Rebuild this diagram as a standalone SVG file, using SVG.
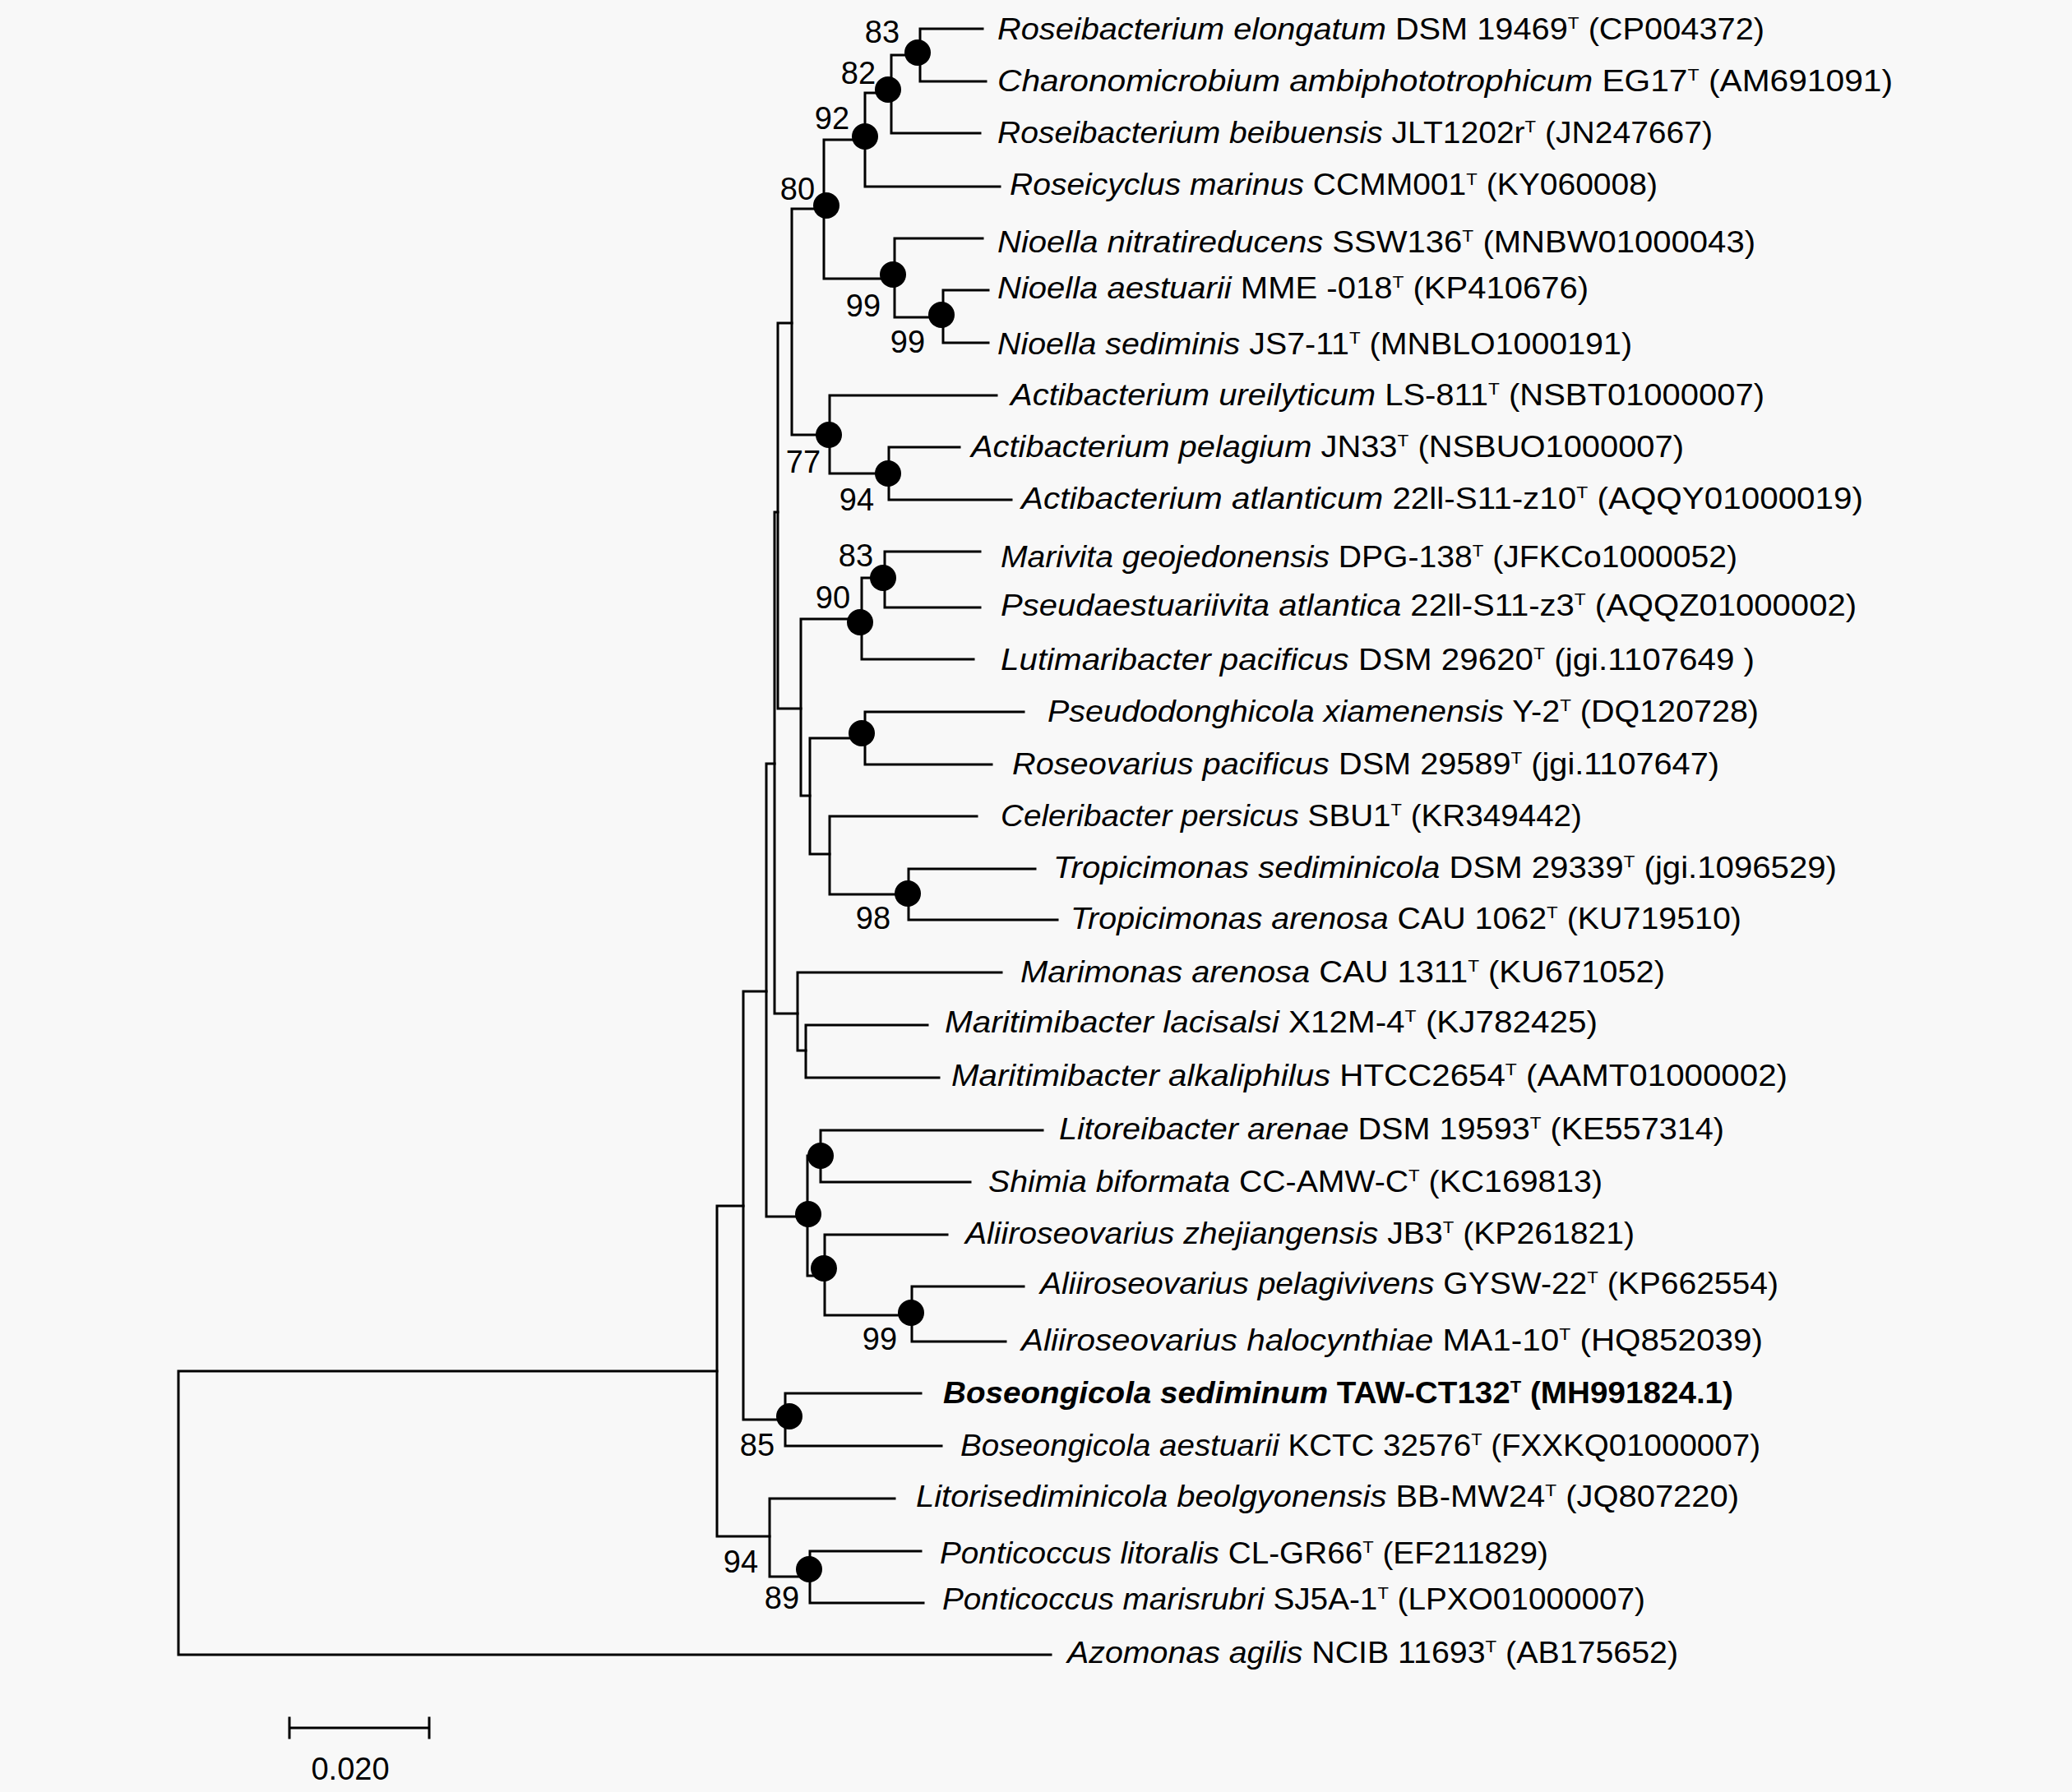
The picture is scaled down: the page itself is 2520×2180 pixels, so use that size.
<svg xmlns="http://www.w3.org/2000/svg" width="2520" height="2180" viewBox="0 0 2520 2180">
<style>
.br{fill:none;stroke:#000;stroke-width:3;stroke-linecap:square}
.lf{font-family:"Liberation Sans",Arial,sans-serif;font-size:37px;fill:#000}
.it{font-style:italic}
.sup{font-size:21px}
.bs{font-family:"Liberation Sans",Arial,sans-serif;font-size:38px;fill:#000;text-anchor:middle}
.dot{fill:#000}
</style>
<rect x="0" y="0" width="2520" height="2180" fill="#f8f8f8"/>
<g id="connectors">
<path class="br" d="M217,1668V2013M217,1668H872M217,2013H1278"/>
<path class="br" d="M872,1467V1869M872,1467H904M872,1869H936"/>
<path class="br" d="M936,1823V1918M936,1823H1088M936,1918H985"/>
<path class="br" d="M985,1887V1950M985,1887H1120M985,1950H1123"/>
<path class="br" d="M904,1206V1727M904,1206H932M904,1727H955"/>
<path class="br" d="M955,1695V1759M955,1695H1120M955,1759H1145"/>
<path class="br" d="M932,929V1480M932,929H942M932,1480H982"/>
<path class="br" d="M982,1406V1552M982,1406H998M982,1552H1003"/>
<path class="br" d="M998,1375V1438M998,1375H1268M998,1438H1180"/>
<path class="br" d="M1003,1502V1600M1003,1502H1152M1003,1600H1109"/>
<path class="br" d="M1109,1565V1632M1109,1565H1245M1109,1632H1223"/>
<path class="br" d="M942,623V1233M942,623H946M942,1233H970"/>
<path class="br" d="M970,1183V1278M970,1183H1218M970,1278H980"/>
<path class="br" d="M980,1247V1311M980,1247H1128M980,1311H1142"/>
<path class="br" d="M946,393V862M946,393H963M946,862H974"/>
<path class="br" d="M974,753V968M974,753H1048M974,968H985"/>
<path class="br" d="M1048,703V802M1048,703H1076M1048,802H1184"/>
<path class="br" d="M1076,671V739M1076,671H1192M1076,739H1192"/>
<path class="br" d="M985,898V1039M985,898H1052M985,1039H1009"/>
<path class="br" d="M1052,866V930M1052,866H1245M1052,930H1206"/>
<path class="br" d="M1009,993V1088M1009,993H1188M1009,1088H1105"/>
<path class="br" d="M1105,1057V1119M1105,1057H1259M1105,1119H1286"/>
<path class="br" d="M963,254V529M963,254H1002M963,529H1009"/>
<path class="br" d="M1002,170V339M1002,170H1052M1002,339H1088"/>
<path class="br" d="M1052,113V227M1052,113H1084M1052,227H1216"/>
<path class="br" d="M1084,67V162M1084,67H1119M1084,162H1192"/>
<path class="br" d="M1119,35V99M1119,35H1195M1119,99H1199"/>
<path class="br" d="M1088,290V386M1088,290H1195M1088,386H1147"/>
<path class="br" d="M1147,353V417M1147,353H1202M1147,417H1202"/>
<path class="br" d="M1009,481V576M1009,481H1212M1009,576H1081"/>
<path class="br" d="M1081,544V608M1081,544H1167M1081,608H1230"/>
</g>
<g id="internal-nodes">
<g id="n-roseib-elong"><circle class="dot" cx="1116" cy="64" r="16"/><text class="bs" x="1073" y="52">83</text></g>
<g id="n-charono"><circle class="dot" cx="1080" cy="109" r="16"/><text class="bs" x="1044" y="102">82</text></g>
<g id="n-roseib"><circle class="dot" cx="1052" cy="166" r="16"/><text class="bs" x="1012" y="157">92</text></g>
<g id="n-roseicyclus"><circle class="dot" cx="1005" cy="250" r="16"/><text class="bs" x="970" y="243">80</text></g>
<g id="n-nioella"><circle class="dot" cx="1086" cy="334" r="16"/><text class="bs" x="1050" y="385">99</text></g>
<g id="n-nioella2"><circle class="dot" cx="1145" cy="383" r="16"/><text class="bs" x="1104" y="429">99</text></g>
<g id="n-actib"><circle class="dot" cx="1008" cy="529" r="16"/><text class="bs" x="977" y="575">77</text></g>
<g id="n-actib2"><circle class="dot" cx="1080" cy="576" r="16"/><text class="bs" x="1042" y="621">94</text></g>
<g id="n-marivita"><circle class="dot" cx="1074" cy="703" r="16"/><text class="bs" x="1041" y="689">83</text></g>
<g id="n-lutimar"><circle class="dot" cx="1046" cy="757" r="16"/><text class="bs" x="1013" y="740">90</text></g>
<g id="n-pseudodong"><circle class="dot" cx="1048" cy="892" r="16"/></g>
<g id="n-tropici"><circle class="dot" cx="1104" cy="1087" r="16"/><text class="bs" x="1062" y="1130">98</text></g>
<g id="n-litoreib"><circle class="dot" cx="998" cy="1406" r="16"/></g>
<g id="n-litoreib-clade"><circle class="dot" cx="983" cy="1477" r="16"/></g>
<g id="n-aliiro"><circle class="dot" cx="1002" cy="1543" r="16"/></g>
<g id="n-aliiro2"><circle class="dot" cx="1108" cy="1597" r="16"/><text class="bs" x="1070" y="1642">99</text></g>
<g id="n-boseong"><circle class="dot" cx="960" cy="1723" r="16"/><text class="bs" x="921" y="1771">85</text></g>
<g id="n-litorised"><text class="bs" x="901" y="1913">94</text></g>
<g id="n-pontic"><circle class="dot" cx="984" cy="1909" r="16"/><text class="bs" x="951" y="1957">89</text></g>
</g>
<g id="leaves">
<g id="l1"><text class="lf" x="1213" y="48" textLength="933" lengthAdjust="spacingAndGlyphs"><tspan class="it">Roseibacterium elongatum</tspan> DSM 19469<tspan class="sup" dy="-13">T</tspan><tspan dy="13"> (CP004372)</tspan></text></g>
<g id="l2"><text class="lf" x="1213" y="111" textLength="1089" lengthAdjust="spacingAndGlyphs"><tspan class="it">Charonomicrobium ambiphototrophicum</tspan> EG17<tspan class="sup" dy="-13">T</tspan><tspan dy="13"> (AM691091)</tspan></text></g>
<g id="l3"><text class="lf" x="1213" y="174" textLength="870" lengthAdjust="spacingAndGlyphs"><tspan class="it">Roseibacterium beibuensis</tspan> JLT1202r<tspan class="sup" dy="-13">T</tspan><tspan dy="13"> (JN247667)</tspan></text></g>
<g id="l4"><text class="lf" x="1228" y="237" font-size="33" textLength="788" lengthAdjust="spacingAndGlyphs"><tspan class="it">Roseicyclus marinus</tspan> CCMM001<tspan class="sup" dy="-12">T</tspan><tspan dy="12"> (KY060008)</tspan></text></g>
<g id="l5"><text class="lf" x="1213" y="307" textLength="922" lengthAdjust="spacingAndGlyphs"><tspan class="it">Nioella nitratireducens</tspan> SSW136<tspan class="sup" dy="-13">T</tspan><tspan dy="13"> (MNBW01000043)</tspan></text></g>
<g id="l6"><text class="lf" x="1213" y="363" textLength="719" lengthAdjust="spacingAndGlyphs"><tspan class="it">Nioella aestuarii</tspan> MME -018<tspan class="sup" dy="-13">T</tspan><tspan dy="13"> (KP410676)</tspan></text></g>
<g id="l7"><text class="lf" x="1213" y="431" textLength="772" lengthAdjust="spacingAndGlyphs"><tspan class="it">Nioella sediminis</tspan> JS7-11<tspan class="sup" dy="-13">T</tspan><tspan dy="13"> (MNBLO1000191)</tspan></text></g>
<g id="l8"><text class="lf" x="1229" y="493" textLength="917" lengthAdjust="spacingAndGlyphs"><tspan class="it">Actibacterium ureilyticum</tspan> LS-811<tspan class="sup" dy="-13">T</tspan><tspan dy="13"> (NSBT01000007)</tspan></text></g>
<g id="l9"><text class="lf" x="1181" y="556" textLength="867" lengthAdjust="spacingAndGlyphs"><tspan class="it">Actibacterium pelagium</tspan> JN33<tspan class="sup" dy="-13">T</tspan><tspan dy="13"> (NSBUO1000007)</tspan></text></g>
<g id="l10"><text class="lf" x="1242" y="619" textLength="1024" lengthAdjust="spacingAndGlyphs"><tspan class="it">Actibacterium atlanticum</tspan> 22ll-S11-z10<tspan class="sup" dy="-13">T</tspan><tspan dy="13"> (AQQY01000019)</tspan></text></g>
<g id="l11"><text class="lf" x="1217" y="690" textLength="896" lengthAdjust="spacingAndGlyphs"><tspan class="it">Marivita geojedonensis</tspan> DPG-138<tspan class="sup" dy="-13">T</tspan><tspan dy="13"> (JFKCo1000052)</tspan></text></g>
<g id="l12"><text class="lf" x="1217" y="749" textLength="1041" lengthAdjust="spacingAndGlyphs"><tspan class="it">Pseudaestuariivita atlantica</tspan> 22ll-S11-z3<tspan class="sup" dy="-13">T</tspan><tspan dy="13"> (AQQZ01000002)</tspan></text></g>
<g id="l13"><text class="lf" x="1217" y="815" textLength="917" lengthAdjust="spacingAndGlyphs"><tspan class="it">Lutimaribacter pacificus</tspan> DSM 29620<tspan class="sup" dy="-13">T</tspan><tspan dy="13"> (jgi.1107649 )</tspan></text></g>
<g id="l14"><text class="lf" x="1274" y="878" textLength="865" lengthAdjust="spacingAndGlyphs"><tspan class="it">Pseudodonghicola xiamenensis</tspan> Y-2<tspan class="sup" dy="-13">T</tspan><tspan dy="13"> (DQ120728)</tspan></text></g>
<g id="l15"><text class="lf" x="1231" y="942" textLength="860" lengthAdjust="spacingAndGlyphs"><tspan class="it">Roseovarius pacificus</tspan> DSM 29589<tspan class="sup" dy="-13">T</tspan><tspan dy="13"> (jgi.1107647)</tspan></text></g>
<g id="l16"><text class="lf" x="1217" y="1005" textLength="707" lengthAdjust="spacingAndGlyphs"><tspan class="it">Celeribacter persicus</tspan> SBU1<tspan class="sup" dy="-13">T</tspan><tspan dy="13"> (KR349442)</tspan></text></g>
<g id="l17"><text class="lf" x="1281" y="1068" textLength="953" lengthAdjust="spacingAndGlyphs"><tspan class="it">Tropicimonas sediminicola</tspan> DSM 29339<tspan class="sup" dy="-13">T</tspan><tspan dy="13"> (jgi.1096529)</tspan></text></g>
<g id="l18"><text class="lf" x="1302" y="1130" textLength="816" lengthAdjust="spacingAndGlyphs"><tspan class="it">Tropicimonas arenosa</tspan> CAU 1062<tspan class="sup" dy="-13">T</tspan><tspan dy="13"> (KU719510)</tspan></text></g>
<g id="l19"><text class="lf" x="1241" y="1195" textLength="784" lengthAdjust="spacingAndGlyphs"><tspan class="it">Marimonas arenosa</tspan> CAU 1311<tspan class="sup" dy="-13">T</tspan><tspan dy="13"> (KU671052)</tspan></text></g>
<g id="l20"><text class="lf" x="1149" y="1256" textLength="794" lengthAdjust="spacingAndGlyphs"><tspan class="it">Maritimibacter lacisalsi</tspan> X12M-4<tspan class="sup" dy="-13">T</tspan><tspan dy="13"> (KJ782425)</tspan></text></g>
<g id="l21"><text class="lf" x="1157" y="1321" textLength="1017" lengthAdjust="spacingAndGlyphs"><tspan class="it">Maritimibacter alkaliphilus</tspan> HTCC2654<tspan class="sup" dy="-13">T</tspan><tspan dy="13"> (AAMT01000002)</tspan></text></g>
<g id="l22"><text class="lf" x="1288" y="1386" textLength="809" lengthAdjust="spacingAndGlyphs"><tspan class="it">Litoreibacter arenae</tspan> DSM 19593<tspan class="sup" dy="-13">T</tspan><tspan dy="13"> (KE557314)</tspan></text></g>
<g id="l23"><text class="lf" x="1202" y="1450" textLength="747" lengthAdjust="spacingAndGlyphs"><tspan class="it">Shimia biformata</tspan> CC-AMW-C<tspan class="sup" dy="-13">T</tspan><tspan dy="13"> (KC169813)</tspan></text></g>
<g id="l24"><text class="lf" x="1174" y="1513" textLength="814" lengthAdjust="spacingAndGlyphs"><tspan class="it">Aliiroseovarius zhejiangensis</tspan> JB3<tspan class="sup" dy="-13">T</tspan><tspan dy="13"> (KP261821)</tspan></text></g>
<g id="l25"><text class="lf" x="1265" y="1574" textLength="898" lengthAdjust="spacingAndGlyphs"><tspan class="it">Aliiroseovarius pelagivivens</tspan> GYSW-22<tspan class="sup" dy="-13">T</tspan><tspan dy="13"> (KP662554)</tspan></text></g>
<g id="l26"><text class="lf" x="1242" y="1643" textLength="902" lengthAdjust="spacingAndGlyphs"><tspan class="it">Aliiroseovarius halocynthiae</tspan> MA1-10<tspan class="sup" dy="-13">T</tspan><tspan dy="13"> (HQ852039)</tspan></text></g>
<g id="l27"><text class="lf" x="1147" y="1707" textLength="961" lengthAdjust="spacingAndGlyphs" font-weight="bold"><tspan class="it">Boseongicola sediminum</tspan> TAW-CT132<tspan class="sup" dy="-13">T</tspan><tspan dy="13"> (MH991824.1)</tspan></text></g>
<g id="l28"><text class="lf" x="1168" y="1771" textLength="973" lengthAdjust="spacingAndGlyphs"><tspan class="it">Boseongicola aestuarii</tspan> KCTC 32576<tspan class="sup" dy="-13">T</tspan><tspan dy="13"> (FXXKQ01000007)</tspan></text></g>
<g id="l29"><text class="lf" x="1114" y="1833" textLength="1001" lengthAdjust="spacingAndGlyphs"><tspan class="it">Litorisediminicola beolgyonensis</tspan> BB-MW24<tspan class="sup" dy="-13">T</tspan><tspan dy="13"> (JQ807220)</tspan></text></g>
<g id="l30"><text class="lf" x="1143" y="1902" textLength="740" lengthAdjust="spacingAndGlyphs"><tspan class="it">Ponticoccus litoralis</tspan> CL-GR66<tspan class="sup" dy="-13">T</tspan><tspan dy="13"> (EF211829)</tspan></text></g>
<g id="l31"><text class="lf" x="1146" y="1958" textLength="855" lengthAdjust="spacingAndGlyphs"><tspan class="it">Ponticoccus marisrubri</tspan> SJ5A-1<tspan class="sup" dy="-13">T</tspan><tspan dy="13"> (LPXO01000007)</tspan></text></g>
<g id="l32"><text class="lf" x="1298" y="2023" textLength="743" lengthAdjust="spacingAndGlyphs"><tspan class="it">Azomonas agilis</tspan> NCIB 11693<tspan class="sup" dy="-13">T</tspan><tspan dy="13"> (AB175652)</tspan></text></g>
</g>
<g id="scale-bar">
<path class="br" d="M352,2102H522M352,2090V2114M522,2090V2114"/>
<text class="bs" x="426" y="2165">0.020</text>
</g>
</svg>
